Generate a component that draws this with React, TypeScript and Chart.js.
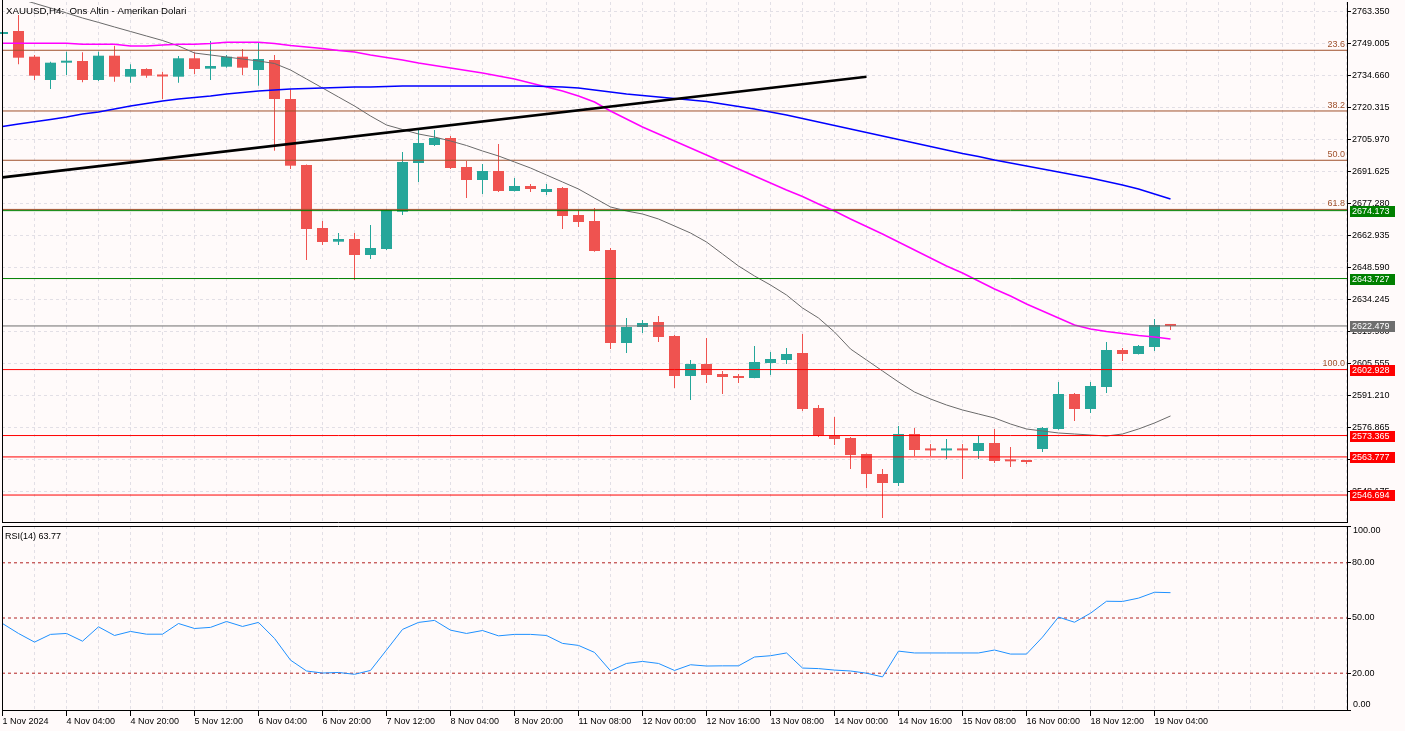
import React, { useEffect, useRef } from 'react';
import { Chart, registerables } from 'chart.js';

Chart.register(...registerables);

const FONT = 'Liberation Sans';
const BG = '#FFFAFA';
const BULL = '#26A69A';
const BEAR = '#EF5350';
const GRID = '#E2DFE6';
const FIB = '#A0522D';

// ---------- data ----------
const title = 'XAUUSD,H4:  Ons Altin - Amerikan Dolari';
const rsiTitle = 'RSI(14) 63.77';

const xLabels = ['1 Nov 2024', '4 Nov 04:00', '4 Nov 20:00', '5 Nov 12:00', '6 Nov 04:00', '6 Nov 20:00',
  '7 Nov 12:00', '8 Nov 04:00', '8 Nov 20:00', '11 Nov 08:00', '12 Nov 00:00', '12 Nov 16:00',
  '13 Nov 08:00', '14 Nov 00:00', '14 Nov 16:00', '15 Nov 08:00', '16 Nov 00:00', '18 Nov 12:00', '19 Nov 04:00'];

const priceTicks = [2763.35, 2749.005, 2734.66, 2720.315, 2705.97, 2691.625, 2677.28, 2662.935,
  2648.59, 2634.245, 2619.9, 2605.555, 2591.21, 2576.865, 2562.52, 2548.175];

const opens = [2753.35, 2754.69, 2743.18, 2732.73, 2740.49, 2741.25, 2732.73, 2743.62, 2734.21, 2737.66,
  2734.97, 2734.21, 2742.46, 2737.8, 2738.69, 2743.18, 2737.21, 2741.70, 2724.22, 2694.63,
  2666.39, 2660.25, 2661.46, 2654.29, 2656.98, 2673.70, 2695.53, 2703.6, 2706.73, 2693.74,
  2687.91, 2691.94, 2682.98, 2685.22, 2682.53, 2684.32, 2672.22, 2669.53, 2656.53, 2614.85,
  2622.02, 2624.26, 2617.98, 2600.06, 2605.43, 2600.95, 2600.06, 2599.16, 2605.88, 2607.23,
  2610.36, 2585.71, 2573.61, 2572.26, 2565.09, 2556.13, 2552.09, 2574.06, 2567.1, 2566.7,
  2567.1, 2566.44, 2570.02, 2562.2, 2561.8, 2567.33, 2576.3, 2591.99, 2585.26, 2595.12,
  2611.71, 2609.92, 2613.05, 2622.92];

const highs = [2754.69, 2761.87, 2743.94, 2740.93, 2745.42, 2745.15, 2745.42, 2748.11, 2739.77, 2738.0,
  2736.45, 2743.49, 2745.15, 2750.21, 2743.94, 2746.63, 2749.63, 2743.94, 2728.56, 2694.8,
  2669.53, 2664.15, 2664.15, 2667.74, 2674.9, 2700.46, 2710.77, 2710.32, 2707.63, 2696.42,
  2695.08, 2704.04, 2688.81, 2686.12, 2686.12, 2684.77, 2674.46, 2675.36, 2657.43, 2626.05,
  2625.16, 2626.95, 2618.43, 2607.23, 2617.09, 2602.3, 2600.95, 2613.5, 2610.81, 2612.61,
  2618.88, 2587.06, 2581.68, 2572.71, 2565.3, 2558.37, 2577.64, 2576.75, 2569.58, 2571.82,
  2569.58, 2573.16, 2576.3, 2568.23, 2562.4, 2577.2, 2597.37, 2592.43, 2597.37, 2615.3,
  2612.61, 2613.95, 2625.6, 2622.92];

const lows = [2752.9, 2739.77, 2732.73, 2728.70, 2734.97, 2731.70, 2732.28, 2731.97, 2731.52, 2733.76,
  2724.22, 2731.52, 2735.42, 2732.73, 2738.24, 2734.97, 2730.18, 2701.04, 2692.84, 2652.05,
  2658.77, 2658.77, 2643.09, 2652.5, 2656.5, 2672.22, 2687.01, 2703.15, 2692.84, 2679.84,
  2681.63, 2682.53, 2682.8, 2682.53, 2681.19, 2665.95, 2666.84, 2655.8, 2612.16, 2610.36,
  2619.33, 2615.3, 2594.68, 2589.3, 2596.92, 2591.99, 2596.92, 2599.0, 2600.5, 2605.43,
  2584.37, 2572.71, 2569.13, 2558.37, 2549.85, 2536.41, 2550.75, 2564.2, 2564.2, 2562.85,
  2553.89, 2562.85, 2561.06, 2559.27, 2560.61, 2565.99, 2576.0, 2579.89, 2583.47, 2592.43,
  2606.78, 2609.7, 2611.26, 2620.67];

const closes = [2754.25, 2742.73, 2734.66, 2740.49, 2741.38, 2732.73, 2743.62, 2734.21, 2737.66, 2734.66,
  2734.3, 2742.46, 2737.66, 2739.01, 2743.18, 2738.24, 2742.14, 2724.22, 2694.32, 2665.95,
  2660.12, 2661.46, 2654.29, 2657.43, 2674.46, 2695.98, 2704.49, 2706.73, 2693.29, 2687.91,
  2691.94, 2682.98, 2685.22, 2683.87, 2683.87, 2671.77, 2669.08, 2656.08, 2614.85, 2622.02,
  2623.81, 2617.54, 2600.06, 2605.43, 2600.5, 2599.61, 2599.16, 2606.33, 2607.68, 2609.92,
  2585.26, 2573.16, 2571.82, 2564.65, 2556.13, 2552.09, 2574.06, 2566.89, 2566.7, 2567.1,
  2566.7, 2570.02, 2561.96, 2561.8, 2561.5, 2576.75, 2591.99, 2585.26, 2595.57, 2611.71,
  2609.92, 2613.5, 2622.92, 2622.479];

const maGray = [2771.4, 2769.26, 2767.11, 2765.0, 2762.76, 2760.52, 2758.55, 2756.49, 2754.47, 2752.45,
  2750.44, 2747.97, 2744.83, 2743.94, 2743.04, 2742.14, 2741.25, 2740.13, 2737.21, 2733.18,
  2729.15, 2725.11, 2721.08, 2716.59, 2712.56, 2710.54, 2708.53, 2707.18, 2705.39, 2703.37,
  2700.91, 2698.67, 2695.98, 2693.29, 2690.15, 2687.01, 2683.87, 2679.84, 2675.81, 2674.01,
  2672.67, 2670.43, 2667.29, 2664.15, 2660.12, 2654.74, 2649.36, 2644.88, 2640.84, 2636.36,
  2630.54, 2626.05, 2619.78, 2612.16, 2607.23, 2602.3, 2597.37, 2592.88, 2589.75, 2587.06,
  2584.82, 2583.02, 2581.23, 2578.54, 2576.3, 2575.4, 2574.51, 2574.06, 2573.61, 2573.16,
  2574.06, 2576.3, 2578.99, 2582.13];

const maMagenta = [2749.18, 2749.18, 2749.18, 2749.18, 2749.18, 2748.73, 2748.73, 2748.73, 2747.97, 2747.97,
  2748.42, 2748.73, 2748.73, 2749.09, 2749.63, 2749.63, 2749.63, 2749.09, 2748.2, 2747.52,
  2746.85, 2745.95, 2745.28, 2743.94, 2742.82, 2741.70, 2740.35, 2739.23, 2738.11, 2736.99,
  2735.87, 2734.52, 2733.18, 2731.39, 2729.59, 2727.80, 2725.56, 2722.87, 2718.84, 2715.25,
  2711.66, 2708.53, 2705.39, 2702.25, 2699.11, 2695.98, 2692.84, 2689.7, 2686.56, 2683.43,
  2680.51, 2677.15, 2674.01, 2670.43, 2667.07, 2663.7, 2660.12, 2656.53, 2652.95, 2649.36,
  2646.22, 2642.64, 2639.05, 2635.91, 2632.33, 2629.19, 2626.05, 2622.92, 2621.12, 2620.0,
  2619.11, 2618.21, 2617.54, 2616.64];

const maBlue = [2711.93, 2712.96, 2713.99, 2715.03, 2716.15, 2717.49, 2718.39, 2719.73, 2721.08, 2722.2,
  2723.32, 2724.22, 2724.89, 2725.56, 2726.46, 2727.13, 2727.8, 2728.25, 2728.70, 2728.92,
  2729.15, 2729.37, 2729.59, 2729.59, 2729.82, 2730.04, 2730.04, 2730.04, 2730.04, 2730.04,
  2730.04, 2730.04, 2730.04, 2730.04, 2729.82, 2729.59, 2729.15, 2728.25, 2727.35, 2726.46,
  2725.78, 2725.11, 2724.44, 2723.77, 2723.09, 2721.97, 2720.85, 2719.73, 2718.39, 2717.04,
  2715.47, 2713.91, 2712.34, 2710.77, 2709.2, 2707.63, 2706.06, 2704.49, 2702.92, 2701.36,
  2699.79, 2698.44, 2696.87, 2695.53, 2694.18, 2692.84, 2691.49, 2690.15, 2688.81, 2687.24,
  2685.67, 2683.87, 2681.63, 2679.39];

const rsi = [47.0, 41.6, 36.9, 41.1, 41.6, 37.4, 45.2, 40.5, 42.7, 41.2,
  41.2, 47.0, 44.3, 44.9, 48.1, 45.4, 47.6, 38.9, 27.1, 21.2,
  20.1, 20.4, 19.4, 21.5, 32.6, 43.8, 47.6, 48.7, 43.4, 41.6,
  43.2, 40.3, 41.1, 41.1, 40.5, 36.2, 35.1, 31.3, 21.3, 25.3,
  26.4, 25.3, 21.5, 24.6, 23.9, 24.0, 24.0, 28.8, 29.5, 31.0,
  22.8, 22.5, 21.7, 21.2, 20.0, 18.0, 32.0, 31.0, 31.0, 31.0,
  31.0, 31.0, 32.6, 30.4, 30.4, 39.6, 50.5, 47.7, 52.6, 59.1,
  59.0, 60.8, 64.0, 63.77];

const fibLabels = ['23.6', '38.2', '50.0', '61.8', '100.0'];
const fibPrices = [2746.05, 2718.84, 2696.75, 2674.72, 2603.4];

const hLinePrices = [2674.173, 2643.727, 2622.479, 2602.928, 2573.365, 2563.777, 2546.694];
const hLineColors = ['#008000', '#008000', '#6E6E6E', '#FF0000', '#FF0000', '#FF0000', '#FF0000'];

const trendBars = [0, 54];
const trendPrices = [2689.1, 2734.2];

const rsiLevels = [80, 50, 20];
const rsiTicks = [100, 80, 50, 20, 0];

// ---------- layout constants ----------
const W = 1405;
const MAIN_H = 524;
const RSI_TOP = 524;
const RSI_H = 731 - RSI_TOP;
const AXIS_W = 58;
const X_MIN = -1 / 32;
const X_MAX = X_MIN + (W - AXIS_W - 2) / 16;
const Y_MIN = 2534.61;
const Y_MAX = 2767.69;

const gridTicks: number[] = [];
for (let k = 0; k <= X_MAX; k += 2) gridTicks.push(k);

const isLabeled = (v: number) => {
  const k = Math.round(v);
  return k % 4 === 0 && k / 4 < xLabels.length;
};

const spanLine = (p: number) => [{ x: X_MIN, y: p }, { x: X_MAX, y: p }];
const series = (arr: number[]) => arr.map((v, k) => ({ x: k, y: v }));

const xScaleBase = (extra: any) => ({
  type: 'linear',
  min: X_MIN,
  max: X_MAX,
  offset: false,
  afterBuildTicks: (s: any) => { s.ticks = gridTicks.map((v) => ({ value: v })); },
  ...extra,
});

function App() {
  const mainRef = useRef<HTMLCanvasElement>(null);
  const rsiRef = useRef<HTMLCanvasElement>(null);

  useEffect(() => {
    Chart.defaults.font.family = FONT;
    Chart.defaults.font.size = 9;
    Chart.defaults.color = '#000';

    const candleColors = opens.map((o, k) => (closes[k] >= o ? BULL : BEAR));

    const mainDecor = {
      id: 'mainDecor',
      afterDraw(chart: any) {
        const { ctx, chartArea: a } = chart;
        const y = chart.scales.y;
        ctx.save();
        ctx.strokeStyle = '#000';
        ctx.lineWidth = 1;
        ctx.beginPath();
        ctx.moveTo(a.left + 0.5, a.bottom);
        ctx.lineTo(a.left + 0.5, 0);
        ctx.stroke();

        ctx.fillStyle = '#000';
        ctx.font = `9.7px ${FONT}`;
        ctx.textAlign = 'left';
        ctx.textBaseline = 'alphabetic';
        ctx.fillText(title, 6, 13.5);

        ctx.font = `9px ${FONT}`;
        ctx.fillStyle = FIB;
        ctx.textAlign = 'right';
        fibPrices.forEach((p, i) => {
          ctx.fillText(fibLabels[i], a.right - 2, y.getPixelForValue(p) - 3);
        });

        ctx.textAlign = 'left';
        ctx.textBaseline = 'middle';
        hLinePrices.forEach((p, i) => {
          const py = y.getPixelForValue(p);
          ctx.fillStyle = hLineColors[i];
          ctx.fillRect(a.right + 3, Math.round(py) - 5, 45, 11);
          ctx.fillStyle = '#FFFFFF';
          ctx.fillText(p.toFixed(3), a.right + 5, Math.round(py) + 0.5);
        });
        ctx.restore();
      },
    };

    const mainChart = new Chart(mainRef.current as HTMLCanvasElement, {
      type: 'bar',
      data: {
        datasets: [
          {
            type: 'bar',
            label: 'wicks',
            data: opens.map((_, k) => ({ x: k, y: [lows[k], highs[k]] })),
            backgroundColor: candleColors,
            borderWidth: 0,
            barThickness: 1,
            grouped: false,
            inflateAmount: 0,
            clip: false,
            order: 30,
          } as any,
          {
            type: 'bar',
            label: 'bodies',
            data: opens.map((o, k) => ({ x: k, y: [o, closes[k]] })),
            backgroundColor: candleColors,
            borderWidth: 0,
            barThickness: 11,
            minBarLength: 2,
            grouped: false,
            inflateAmount: 0,
            clip: false,
            order: 29,
          } as any,
          // the 100.0 level sits under the red 2602.928 line, so only the upper levels get a line
          ...fibPrices.slice(0, 4).map((p) => ({
            type: 'line', label: 'fib', data: spanLine(p), borderColor: FIB, borderWidth: 1,
            pointRadius: 0, order: 25,
          })),
          { type: 'line', label: 'MA gray', data: series(maGray), borderColor: '#6A6A6A', borderWidth: 1, pointRadius: 0, order: 20 },
          { type: 'line', label: 'MA magenta', data: series(maMagenta), borderColor: '#FF00FF', borderWidth: 1.5, pointRadius: 0, order: 19 },
          { type: 'line', label: 'MA blue', data: series(maBlue), borderColor: '#0000FF', borderWidth: 1.5, pointRadius: 0, order: 18 },
          ...hLinePrices.map((p, i) => ({
            type: 'line', label: 'h', data: spanLine(p), borderColor: hLineColors[i], borderWidth: 1,
            pointRadius: 0, order: 10,
          })),
          {
            type: 'line', label: 'trend',
            data: trendBars.map((b, i) => ({ x: b, y: trendPrices[i] })),
            borderColor: '#000000', borderWidth: 2.6, pointRadius: 0, order: 5,
          },
        ] as any,
      },
      options: {
        responsive: false,
        maintainAspectRatio: false,
        animation: false,
        events: [],
        layout: { padding: { left: 2, top: 2, right: 0, bottom: 2 } },
        plugins: { legend: { display: false }, tooltip: { enabled: false }, title: { display: false } },
        scales: {
          x: xScaleBase({
            afterFit: (s: any) => { s.height = 0; s.paddingLeft = 0; s.paddingRight = 0; },
            ticks: { display: false },
            grid: { color: GRID, drawTicks: false, offset: false, lineWidth: 1 },
            border: { display: true, color: '#000', width: 1, dash: [3, 3] },
          }),
          y: {
            type: 'linear',
            position: 'right',
            min: Y_MIN,
            max: Y_MAX,
            beginAtZero: false,
            afterBuildTicks: (s: any) => { s.ticks = priceTicks.map((v) => ({ value: v })); },
            afterFit: (s: any) => { s.width = AXIS_W; s.paddingTop = 0; s.paddingBottom = 0; },
            ticks: {
              autoSkip: false,
              padding: 1,
              color: '#000',
              font: { family: FONT, size: 9 },
              callback: (v: any) => Number(v).toFixed(3),
            },
            grid: { color: GRID, tickColor: '#000', tickLength: 4, lineWidth: 1 },
            border: { display: true, color: '#000', width: 1, dash: [3, 3] },
          },
        } as any,
      },
      plugins: [mainDecor],
    });

    const rsiDecor = {
      id: 'rsiDecor',
      afterDraw(chart: any) {
        const { ctx, chartArea: a } = chart;
        const y = chart.scales.y;
        ctx.save();
        ctx.strokeStyle = '#000';
        ctx.lineWidth = 1;
        ctx.beginPath();
        ctx.moveTo(a.left + 0.5, a.bottom);
        ctx.lineTo(a.left + 0.5, Math.round(a.top) + 0.5);
        ctx.lineTo(a.right, Math.round(a.top) + 0.5);
        ctx.stroke();

        ctx.fillStyle = '#000';
        ctx.font = `9px ${FONT}`;
        ctx.textAlign = 'left';
        ctx.textBaseline = 'alphabetic';
        ctx.fillText(rsiTitle, 5, 14.5);

        ctx.textBaseline = 'middle';
        ctx.fillText((100).toFixed(2), a.right + 6, y.getPixelForValue(100) + 4.5);
        ctx.fillText((0).toFixed(2), a.right + 6, y.getPixelForValue(0) - 5.5);
        ctx.restore();
      },
    };

    const rsiChart = new Chart(rsiRef.current as HTMLCanvasElement, {
      type: 'line',
      data: {
        datasets: [
          ...rsiLevels.map((lv) => ({
            label: 'level', data: spanLine(lv), borderColor: '#B22222', borderWidth: 1,
            borderDash: [3, 3], pointRadius: 0, order: 10,
          })),
          { label: 'RSI', data: series(rsi), borderColor: '#1E90FF', borderWidth: 1, pointRadius: 0, order: 1 },
        ] as any,
      },
      options: {
        responsive: false,
        maintainAspectRatio: false,
        animation: false,
        events: [],
        layout: { padding: { left: 2, top: 2, right: 0, bottom: 0 } },
        plugins: { legend: { display: false }, tooltip: { enabled: false }, title: { display: false } },
        scales: {
          x: xScaleBase({
            afterFit: (s: any) => { s.height = 21; s.paddingLeft = 0; s.paddingRight = 0; },
            ticks: {
              display: true,
              autoSkip: false,
              maxRotation: 0,
              minRotation: 0,
              align: 'start',
              padding: 0,
              color: '#000',
              font: { family: FONT, size: 9 },
              callback: (v: any) => (isLabeled(Number(v)) ? xLabels[Math.round(Number(v)) / 4] : ''),
            },
            grid: {
              color: GRID,
              offset: false,
              tickLength: 6,
              tickColor: (c: any) => (c.tick && isLabeled(c.tick.value) ? '#000' : 'rgba(0,0,0,0)'),
            },
            border: { display: true, color: '#000', width: 1, dash: [3, 3] },
          }),
          y: {
            type: 'linear',
            position: 'right',
            min: 0,
            max: 100,
            afterBuildTicks: (s: any) => { s.ticks = rsiTicks.map((v) => ({ value: v })); },
            afterFit: (s: any) => { s.width = AXIS_W; s.paddingTop = 0; s.paddingBottom = 0; },
            ticks: {
              autoSkip: false,
              padding: 1,
              color: '#000',
              font: { family: FONT, size: 9 },
              callback: (v: any) => (Number(v) === 0 || Number(v) === 100 ? '' : Number(v).toFixed(2)),
            },
            grid: { drawOnChartArea: false, tickColor: '#000', tickLength: 4 },
            border: { display: true, color: '#000', width: 1 },
          },
        } as any,
      },
      plugins: [rsiDecor],
    });

    return () => {
      mainChart.destroy();
      rsiChart.destroy();
    };
  }, []);

  return (
    <div style={{ position: 'fixed', left: 0, top: 0, width: W, height: 731, background: BG, overflow: 'hidden' }}>
      <canvas ref={mainRef} width={W} height={MAIN_H}
        style={{ position: 'absolute', left: 0, top: 0, width: W, height: MAIN_H }} />
      <canvas ref={rsiRef} width={W} height={RSI_H}
        style={{ position: 'absolute', left: 0, top: RSI_TOP, width: W, height: RSI_H }} />
    </div>
  );
}

export default App;
